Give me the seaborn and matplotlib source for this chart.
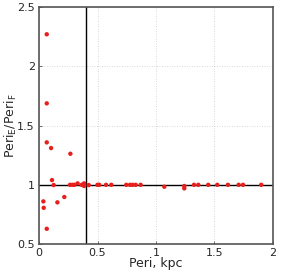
import numpy as np
import pandas as pd
import seaborn as sns
import matplotlib
matplotlib.use('Agg')
import matplotlib.pyplot as plt

# pericentre (kpc) and ratio Peri_E / Peri_F
peri = [0.066, 0.066, 0.066, 0.103, 0.268, 0.111, 0.125, 0.037, 0.040, 0.157,
        0.216, 0.066, 0.265, 0.285, 0.302, 0.330, 0.365, 0.385, 0.385, 0.425,
        0.500, 0.515, 0.573, 0.618, 0.746, 0.778, 0.800, 0.826, 0.869, 1.071,
        1.242, 1.242, 1.325, 1.362, 1.447, 1.524, 1.615, 1.707, 1.744, 1.900]
ratio = [2.27, 1.687, 1.358, 1.31, 1.262, 1.04, 0.998, 0.86, 0.806, 0.852,
         0.897, 0.629, 1.0, 1.0, 1.0, 1.012, 1.0, 1.012, 0.99, 0.998,
         1.0, 1.0, 1.0, 1.0, 1.0, 1.0, 1.0, 1.0, 1.0, 0.984,
         0.99, 0.97, 1.0, 1.0, 1.0, 1.0, 1.0, 1.0, 1.0, 1.0]
xticks = [0, 0.5, 1, 1.5, 2]
yticks = [0.5, 1, 1.5, 2, 2.5]
peri_cut = 0.4

df = pd.DataFrame({'peri': peri, 'ratio': ratio})

sns.set_style('white')
plt.rcParams['font.family'] = ['DejaVu Sans']
plt.rcParams['mathtext.default'] = 'regular'

fig = plt.figure(figsize=(2.87, 2.70), dpi=100)
ax = fig.add_axes([0.136, 0.096, 0.815, 0.878])

ax.axhline(1, color='black', lw=1.0, zorder=1)
ax.axvline(peri_cut, color='black', lw=1.0, zorder=1)
sns.scatterplot(data=df, x='peri', y='ratio', ax=ax, color='#e8201c',
                s=10, edgecolor='none', zorder=3)

ax.set_xlim(0, 2)
ax.set_ylim(0.5, 2.5)
ax.set_xticks(xticks)
ax.set_xticklabels(['0', '0.5', '1', '1.5', '2'])
ax.set_yticks(yticks)
ax.set_yticklabels(['0.5', '1', '1.5', '2', '2.5'])
ax.grid(True, color='#cccccc', ls=(0, (1, 2)), lw=0.6)
ax.tick_params(direction='in', length=2, width=0.6, color='#555555',
               labelsize=8, pad=3, bottom=True, left=True)
for s in ax.spines.values():
    s.set_color('#555555')
    s.set_linewidth(1.2)

ax.set_xlabel('Peri, kpc', fontsize=9, labelpad=-1)
ax.set_ylabel('Peri$_E$/Peri$_F$', fontsize=9, labelpad=-1)

fig.savefig('out.png', dpi=100)
